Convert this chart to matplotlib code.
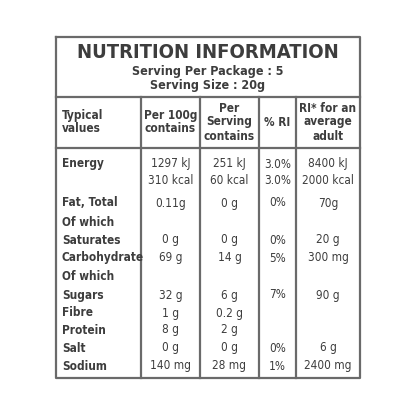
import matplotlib
matplotlib.use("Agg")
import matplotlib.pyplot as plt

title = "NUTRITION INFORMATION"
sub1 = "Serving Per Package : 5"
sub2 = "Serving Size : 20g"
headers = ["Typical\nvalues", "Per 100g\ncontains", "Per\nServing\ncontains", "% RI", "RI* for an\naverage\nadult"]
nutrients = ["Energy", "", "Fat, Total", "Of which", "Saturates", "Carbohydrate", "Of which", "Sugars", "Fibre", "Protein", "Salt", "Sodium"]
per100 = ["1297 kJ", "310 kcal", "0.11g", "", "0 g", "69 g", "", "32 g", "1 g", "8 g", "0 g", "140 mg"]
perserv = ["251 kJ", "60 kcal", "0 g", "", "0 g", "14 g", "", "6 g", "0.2 g", "2 g", "0 g", "28 mg"]
ri = ["3.0%", "3.0%", "0%", "", "0%", "5%", "", "7%", "", "", "0%", "1%"]
riadult = ["8400 kJ", "2000 kcal", "70g", "", "20 g", "300 mg", "", "90 g", "", "", "6 g", "2400 mg"]
row_y = [164, 181, 203, 222, 240, 258, 276, 295, 313, 330, 348, 366]

C = "#3d3d3d"
fam = ["DejaVu Sans"]
st = "condensed"
fig = plt.figure(figsize=(4.16, 4.16), dpi=100)
ax = fig.add_axes([0, 0, 1, 1])
ax.set_xlim(0, 416); ax.set_ylim(416, 0); ax.axis("off")

L, R, T, B = 56, 360, 37, 378
lw = 1.6
ax.plot([L, R, R, L, L], [T, T, B, B, T], color="#6a6a6a", lw=lw)
ax.plot([L, R], [97, 97], color="#6a6a6a", lw=lw)
ax.plot([L, R], [148, 148], color="#6a6a6a", lw=lw)
cols = [141, 200, 259, 296]
for x in cols:
    ax.plot([x, x], [97, B], color="#6a6a6a", lw=lw)

ax.text(208, 52, title, ha="center", va="center", fontsize=14.5, weight="bold", color=C, family=fam, stretch=st)
ax.text(208, 71, sub1, ha="center", va="center", fontsize=9, weight="bold", color=C, family=fam, stretch=st)
ax.text(208, 86, sub2, ha="center", va="center", fontsize=9, weight="bold", color=C, family=fam, stretch=st)

centers = [None, 170.5, 229.5, 277.5, 328]
fs = 8.5
ax.text(62, 122, headers[0], ha="left", va="center", fontsize=fs, weight="bold", color=C, family=fam, stretch=st, linespacing=1.1)
for i in range(1, 5):
    ax.text(centers[i], 122, headers[i], ha="center", va="center", fontsize=fs, weight="bold", color=C, family=fam, stretch=st, linespacing=1.1)

for j, y in enumerate(row_y):
    ax.text(62, y, nutrients[j], ha="left", va="center", fontsize=fs, weight="bold", color=C, family=fam, stretch=st)
    for i, col in zip(range(1, 5), [per100, perserv, ri, riadult]):
        ax.text(centers[i], y, col[j], ha="center", va="center", fontsize=fs, color=C, family=fam, stretch=st)

fig.savefig("out.png", dpi=100, facecolor="white")
